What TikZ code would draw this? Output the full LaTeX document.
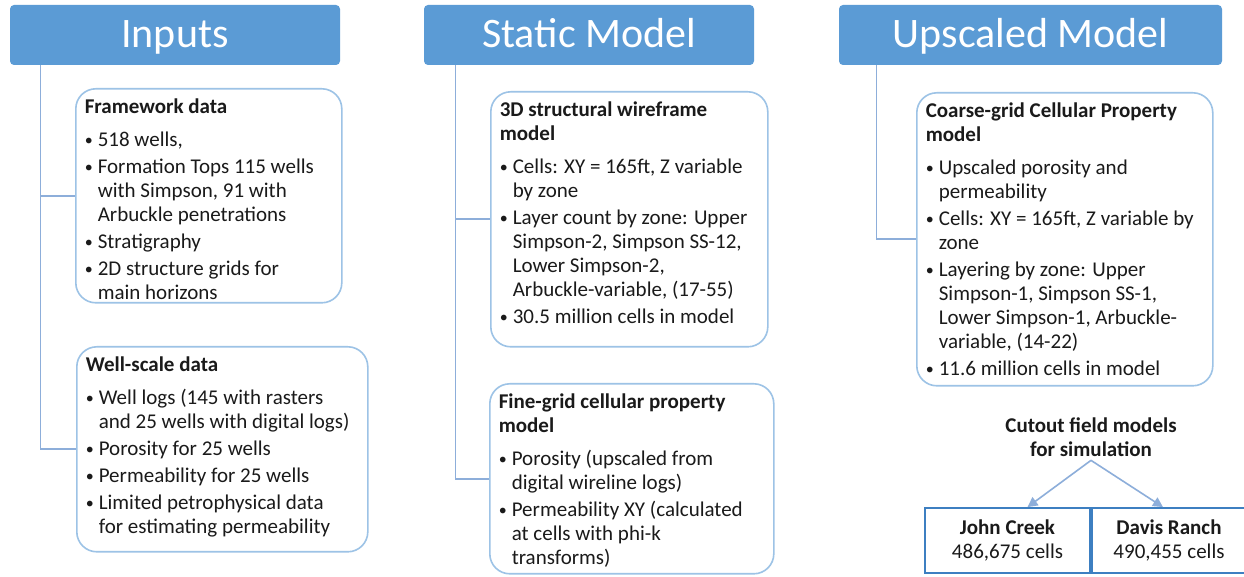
\documentclass[tikz,border=0pt]{standalone}
\usepackage{fontspec}
\setmainfont{Carlito}
\usetikzlibrary{arrows.meta}

\definecolor{headblue}{HTML}{5B9BD5}
\definecolor{linkblue}{HTML}{8DAEDA}
\definecolor{edgeblue}{HTML}{9DC3E6}
\definecolor{cellblue}{HTML}{3D7FC1}
\definecolor{inktext}{HTML}{1A1A1A}

% 文本框内容
\newcommand{\boxbody}[3]{\parbox[t][#2][t]{#1}{\raggedright\let\\\newline #3}}
\newcommand{\boxtitle}[1]{\textbf{#1}\par\vspace{3pt}}
\newcommand{\itm}{\par\vspace{1.5pt}\hangindent=6.5pt\hangafter=1\noindent
  \makebox[6.5pt][l]{\raisebox{0.5pt}{\fontsize{8}{8}\selectfont\textbullet}}}

\tikzset{
  header/.style={fill=headblue, rounded corners=2pt, text=white, minimum height=30pt,
    text height=17pt, text depth=4pt, font=\fontsize{21}{25}\selectfont},
  detail/.style={draw=edgeblue, line width=0.8pt, rounded corners=10pt, anchor=north west,
    inner xsep=4.5pt, inner ysep=5pt, text=inktext, font=\fontsize{10.5}{12}\selectfont},
  cellbox/.style={draw=cellblue, line width=0.9pt, minimum height=32.5pt, align=center,
    text=inktext, font=\fontsize{10.5}{12}\selectfont},
  link/.style={draw=linkblue, line width=0.8pt}
}

\begin{document}
\begin{tikzpicture}[x=0.5pt, y=-0.5pt]
\fill[white] (0,0) rectangle (1244,577);
\useasboundingbox (0,0) rectangle (1244,577);

% 标题框
\node[header, minimum width=165pt] (inp) at (175,35) {Inputs};
\node[header, minimum width=165pt] (stm) at (589,35) {Static Model};
\node[header, minimum width=191.5pt] (upm) at (1030.5,35) {Upscaled Model};

% 输入
\node[detail] (fw) at (75,88) {\boxbody{124pt}{97pt}{%
  \boxtitle{Framework data}
  \itm 518 wells,
  \itm Formation Tops 115 wells\\with Simpson, 91 with\\Arbuckle penetrations
  \itm Stratigraphy
  \itm 2D structure grids for\\main horizons}};
\node[detail] (ws) at (76,346) {\boxbody{136.5pt}{92.5pt}{%
  \boxtitle{Well-scale data}
  \itm Well logs (145 with rasters\\and 25 wells with digital logs)
  \itm Porosity for 25 wells
  \itm Permeability for 25 wells
  \itm Limited petrophysical data\\for estimating permeability}};

% 静态模型
\node[detail] (wf) at (490,91) {\boxbody{129.5pt}{117.5pt}{%
  \boxtitle{3D structural wireframe\\model}
  \itm Cells: XY = 165ft, Z variable\\by zone
  \itm Layer count by zone: Upper\\Simpson-2, Simpson SS-12,\\Lower Simpson-2,\\Arbuckle-variable, (17-55)
  \itm 30.5 million cells in model}};
\node[detail] (fg) at (489,383) {\boxbody{133pt}{85pt}{%
  \boxtitle{Fine-grid cellular property\\model}
  \itm Porosity (upscaled from\\digital wireline logs)
  \itm Permeability XY (calculated\\at cells with phi-k\\transforms)}};

% 粗化模型
\node[detail] (cg) at (916,92) {\boxbody{139pt}{136.5pt}{%
  \boxtitle{Coarse-grid Cellular Property\\model}
  \itm Upscaled porosity and\\permeability
  \itm Cells: XY = 165ft, Z variable by\\zone
  \itm Layering by zone: Upper\\Simpson-1, Simpson SS-1,\\Lower Simpson-1, Arbuckle-\\variable, (14-22)
  \itm 11.6 million cells in model}};

% 模拟模型
\node[font=\bfseries\fontsize{10.5}{12}\selectfont, text=inktext, align=center, inner sep=1.5pt]
  (cut) at (1091,437.5) {Cutout field models\\for simulation};
\node[cellbox, minimum width=82.5pt] (jc) at (1007.5,540.5) {\textbf{John Creek}\\486,675 cells};
\node[cellbox, minimum width=77pt] (dr) at (1169,540.5) {\textbf{Davis Ranch}\\490,455 cells};

% 连线
\draw[link] ([xshift=15.5pt]inp.south west) |- (fw.west);
\draw[link] ([xshift=15.5pt]inp.south west) |- (ws.west);
\draw[link] ([xshift=16pt]stm.south west) |- (wf.west);
\draw[link] ([xshift=16pt]stm.south west) |- (fg.west);
\draw[link] ([xshift=19pt]upm.south west) |- (cg.west);
\draw[link, -{Triangle[length=5pt, width=5pt]}] (cut.south) -- ([xshift=10pt]jc.north);
\draw[link, -{Triangle[length=5pt, width=5pt]}] (cut.south) -- ([xshift=-3pt]dr.north);

\end{tikzpicture}
\end{document}
